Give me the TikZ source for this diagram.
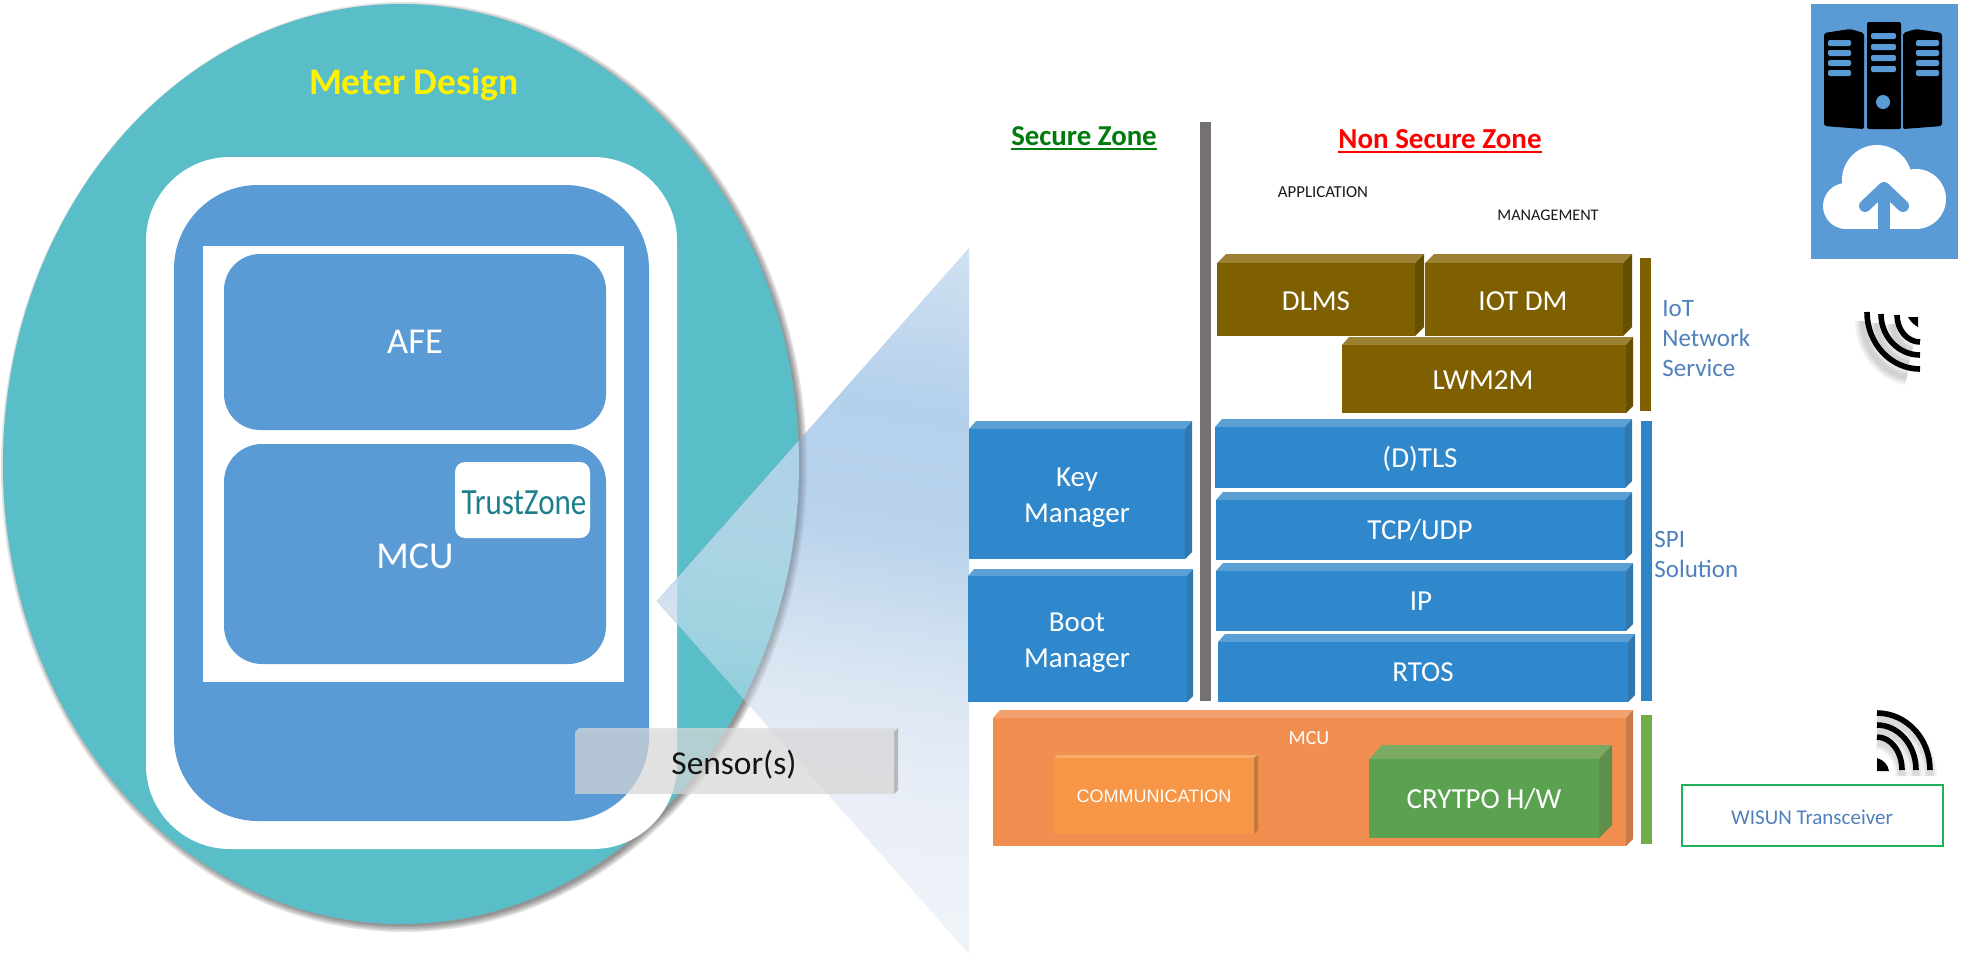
\documentclass[tikz,border=0pt]{standalone}
\usepackage{fontspec}
\setmainfont{Carlito}
\newfontfamily\arialfont{Liberation Sans}

% Palette
\definecolor{tealbody}{HTML}{5ABEC9}
\definecolor{panelblue}{HTML}{5B9BD5}
\definecolor{barblue}{HTML}{2E86C9}
\definecolor{stackfront}{HTML}{2F88CB}
\definecolor{stacktop}{HTML}{5AA0D5}
\definecolor{stackside}{HTML}{3078AE}
\definecolor{brownfront}{HTML}{7F6000}
\definecolor{browntop}{HTML}{9C8134}
\definecolor{brownside}{HTML}{655000}
\definecolor{orangefront}{HTML}{F08F50}
\definecolor{orangetop}{HTML}{F3A26F}
\definecolor{orangeside}{HTML}{C97A48}
\definecolor{commfront}{HTML}{F79646}
\definecolor{commtop}{HTML}{F9AB6B}
\definecolor{commside}{HTML}{C27A3E}
\definecolor{greenfront}{HTML}{5AA24F}
\definecolor{greentop}{HTML}{7BAA63}
\definecolor{greenside}{HTML}{5F8F4B}
\definecolor{greenbar}{HTML}{70AD47}
\definecolor{greybar}{HTML}{767171}
\definecolor{labelblue}{HTML}{4F81BD}
\definecolor{trustteal}{HTML}{1D7F8C}
\definecolor{boxgreen}{HTML}{1FB05A}
\definecolor{securegreen}{HTML}{007A0C}

% Zoom wedge gradient, on the page background and on the teal body
\pgfdeclareverticalshading{wedgeonwhite}{100bp}{
  rgb(0bp)=(.933,.953,.973);
  rgb(27bp)=(.933,.953,.973);
  rgb(35bp)=(.918,.937,.969);
  rgb(43bp)=(.871,.910,.953);
  rgb(49bp)=(.812,.878,.941);
  rgb(56bp)=(.729,.827,.925);
  rgb(66bp)=(.706,.816,.922);
  rgb(78bp)=(.812,.878,.945);
  rgb(100bp)=(.812,.878,.945)}
\pgfdeclareverticalshading{wedgeonteal}{100bp}{
  rgb(0bp)=(.557,.812,.855);
  rgb(41bp)=(.557,.812,.855);
  rgb(45bp)=(.612,.824,.875);
  rgb(51bp)=(.659,.831,.890);
  rgb(57bp)=(.686,.827,.902);
  rgb(100bp)=(.686,.827,.902)}

% Three-dimensional block: left, front right, back right, top, front top, bottom
\newcommand\slab[9]{%
  \fill[#7] (#1,#5) -- (#1+#3-#2,#4) -- (#3,#4) -- (#2,#5) -- cycle;
  \fill[#9] (#2,#5) -- (#3,#4) -- (#3,#6-#3+#2) -- (#2,#6) -- cycle;
  \fill[#8] (#1,#5) rectangle (#2,#6);
}
\newcommand\txt[1]{\fontsize{#1}{#1}\selectfont}
\newcommand\rulestext[1]{\leavevmode\setbox0\hbox{#1}\rlap{\raisebox{-2.3pt}{\rule{\wd0}{1pt}}}\box0}
\newcommand\wedgepath{(657,601) -- (969,248) -- (969,954) -- cycle}

\tikzset{
  lbl/.style={inner sep=0pt,outer sep=0pt,white,align=center},
  bigtext/.style={lbl,font=\fontsize{14.5}{18}\selectfont},
  sidetext/.style={inner sep=0pt,labelblue,align=left,anchor=west,font=\fontsize{12.5}{15}\selectfont},
  smallcaps/.style={inner sep=0pt,black!90,font=\fontsize{8.4}{10}\selectfont},
  wave/.style={line width=2.8pt,black},
  waveblur/.style={gray,opacity=.08},
  serverslot/.style={panelblue,rounded corners=1pt},
  wedgeshade/.style={shading=#1,shading angle=-9},
}

\begin{document}
\begin{tikzpicture}[x=0.5pt,y=-0.5pt]
\useasboundingbox (0,0) rectangle (1972,955);
\fill[white] (0,0) rectangle (1972,955);

% Meter body with its soft shadow
\foreach \g in {8,6.5,5,3.5,2}
  \fill[black,opacity=.1] (404,467) ellipse [x radius=398+\g-3,y radius=460+\g-3];
\fill[tealbody] (401,464) ellipse [x radius=398,y radius=460];

% Meter panels
\fill[white,rounded corners=42pt] (146,157) rectangle (677,849);
\fill[panelblue,rounded corners=42pt] (174,185) rectangle (649,821);
\fill[white] (203,246) rectangle (624,682);
\fill[panelblue,rounded corners=18pt] (224,254) rectangle (606,430);
\fill[panelblue,rounded corners=19pt] (224,444) rectangle (606,664);
\node[lbl,font=\txt{18.2}] (afe) at (415,342) {AFE};
\node[lbl,font=\txt{19}] (mcucore) at (415,556) {MCU};
\fill[white,rounded corners=5pt] (455,462) rectangle (590,538);
\node[inner sep=0pt,trustteal,font=\txt{18.5}] (trust) at (524,503) {\scalebox{.84}[1]{TrustZone}};
\node[inner sep=0pt,yellow,font=\bfseries\txt{18.8}] (meter) at (414,84) {Meter Design};

% Zoom wedge: page part, body shadow seen through it, body part, panel part
\shade[wedgeshade=wedgeonwhite] \wedgepath;
\begin{scope}
  \clip \wedgepath;
  \foreach \g in {8,6.5,5,3.5,2}
    \fill[black,opacity=.05] (404,467) ellipse [x radius=398+\g-3,y radius=460+\g-3];
\end{scope}
\begin{scope}
  \clip (401,464) ellipse [x radius=398,y radius=460];
  \shade[wedgeshade=wedgeonteal] \wedgepath;
\end{scope}
\begin{scope}
  \clip[rounded corners=42pt] (146,157) rectangle (677,849);
  \shade[wedgeshade=wedgeonwhite] \wedgepath;
\end{scope}

% Sensor strip, translucent over the body
\fill[black!15,opacity=.73] (575,732) -- (579,728) -- (898,728) -- (894,732) -- cycle;
\fill[black!16,opacity=.73] (575,732) rectangle (894,794);
\fill[black!28] (894,732) -- (898,728) -- (898,790) -- (894,794) -- cycle;
\node[inner sep=0pt,black!92,font=\txt{16.7}] (sensor) at (734,765) {Sensor(s)};

% Zone headings
\node[inner sep=0pt,securegreen,font=\bfseries\txt{14.4}] (secure) at (1084,138) {\rulestext{Secure Zone}};
\node[inner sep=0pt,red,font=\bfseries\txt{14.5}] (nonsecure) at (1440,141) {\rulestext{Non Secure Zone}};
\node[smallcaps] (application) at (1323,192) {APPLICATION};
\node[smallcaps,font=\fontsize{8.1}{10}\selectfont] (management) at (1548,215) {MANAGEMENT};

% Divider and layer bars
\fill[greybar] (1200,122) rectangle (1211,701);
\fill[brownfront] (1640,258) rectangle (1651,411);
\fill[barblue] (1641,421) rectangle (1652,701);
\fill[greenbar] (1641,715) rectangle (1652,844);

% Network service layers
\slab{1217}{1415}{1424}{254}{263}{336}{browntop}{brownfront}{brownside}
\slab{1425}{1623}{1632}{254}{263}{336}{browntop}{brownfront}{brownside}
\slab{1342}{1626}{1633}{337}{345}{413}{browntop}{brownfront}{brownside}
\node[bigtext] (dlms) at (1316,301) {DLMS};
\node[bigtext] (iotdm) at (1523,301) {IOT DM};
\node[bigtext] (lwm) at (1483,380) {LWM2M};

% Protocol stack and secure-zone managers
\slab{969}{1185}{1192}{421}{429}{559}{stacktop}{stackfront}{stackside}
\slab{968}{1187}{1193}{569}{576}{702}{stacktop}{stackfront}{stackside}
\slab{1215}{1625}{1632}{419}{427}{488}{stacktop}{stackfront}{stackside}
\slab{1216}{1625}{1632}{492}{500}{560}{stacktop}{stackfront}{stackside}
\slab{1216}{1626}{1633}{563}{571}{631}{stacktop}{stackfront}{stackside}
\slab{1218}{1628}{1635}{634}{642}{702}{stacktop}{stackfront}{stackside}
\node[bigtext] (key) at (1077,498) {Key\\Manager};
\node[bigtext] (boot) at (1077,643) {Boot\\Manager};
\node[bigtext] (tls) at (1420,459) {(D)TLS};
\node[bigtext] (tcp) at (1420,530) {TCP/UDP};
\node[bigtext] (ip) at (1421,601) {IP};
\node[bigtext] (rtos) at (1423,672) {RTOS};

% Hardware layer
\slab{993}{1626}{1633}{710}{718}{846}{orangetop}{orangefront}{orangeside}
\slab{1054}{1254}{1258}{755}{758}{834}{commtop}{commfront}{commside}
\slab{1369}{1599}{1612}{745}{759}{838}{greentop}{greenfront}{greenside}
\node[lbl,font=\txt{10}] (mcuhw) at (1309,738) {MCU};
\node[lbl,font=\arialfont\txt{9}] (comm) at (1154,796) {COMMUNICATION};
\node[bigtext] (crypto) at (1484,799) {CRYTPO H/W};

% Side captions
\node[sidetext] (iot) at (1662,339) {IoT\\Network\\Service};
\node[sidetext] (spi) at (1654,554) {SPI\\Solution};

% Transceiver box
\draw[boxgreen,line width=1pt] (1682,785) rectangle (1943,846);
\node[inner sep=0pt,labelblue,font=\txt{10.5}] (wisun) at (1812,817) {WISUN Transceiver};

% Cloud and server tile
\fill[panelblue] (1811,4) rectangle (1958,259);
\fill[black,rounded corners=1pt] (1867,22) rectangle (1901,129);
\fill[black,rounded corners=1pt] (1824,33) -- (1850,29) -- (1864,33) -- (1864,129) -- (1850,128) -- (1824,126) -- cycle;
\fill[black,rounded corners=1pt] (1942,33) -- (1916,29) -- (1903,33) -- (1903,129) -- (1916,128) -- (1942,126) -- cycle;
\foreach \y in {33,44,55,66} \fill[serverslot] (1871,\y) rectangle (1896,\y+6);
\foreach \y in {40,50,60,70} {
  \fill[serverslot] (1828,\y) rectangle (1851,\y+6);
  \fill[serverslot] (1916,\y) rectangle (1939,\y+6);
}
\fill[panelblue] (1883,102) circle [radius=7];
\fill[white] (1846,206) circle [radius=23];
\fill[white] (1877,180) circle [radius=35];
\fill[white] (1916,199) circle [radius=30];
\fill[white] (1846,195) rectangle (1916,229);
\draw[panelblue,line width=6pt,line cap=round,line join=round] (1865,206) -- (1884,188) -- (1903,206);
\fill[panelblue] (1878,188) rectangle (1890,229);

% Uplink signal icon, fanning towards the lower left
\begin{scope}[shift={(-4,5)}]
\foreach \w in {8,6.5,5,3.5,2.5} {
  \foreach \rx/\ry/\ys in {53/57/316,39/41/318,23/27/319}
    \draw[waveblur,line width=\w pt] (1920-\rx,\ys) arc [start angle=180,end angle=100,x radius=\rx,y radius=\ry];
}
\end{scope}
\foreach \rx/\ry/\ys in {53/57/312,39/41/314,23/27/315}
  \draw[wave] (1920-\rx,\ys) arc [start angle=180,end angle=90,x radius=\rx,y radius=\ry];
\fill[black] (1908,317) -- (1918,317) -- (1918,327) .. controls (1914,325) and (1910,321) .. cycle;

% Downlink signal icon, fanning towards the upper right
\begin{scope}[shift={(0,6)}]
\foreach \w in {7,5.5,4,3} {
  \foreach \rx/\ry in {53/57,39/45,25/33}
    \draw[waveblur,line width=\w pt] (1877,770-\ry) arc [start angle=-90,end angle=0,x radius=\rx,y radius=\ry];
}
\end{scope}
\foreach \rx/\ry in {53/57,39/45,25/33}
  \draw[wave] (1877,770-\ry) arc [start angle=-90,end angle=0,x radius=\rx,y radius=\ry];
\fill[black] (1877,758) .. controls (1884,760) and (1888,765) .. (1889,771) -- (1877,771) -- cycle;
\end{tikzpicture}
\end{document}
